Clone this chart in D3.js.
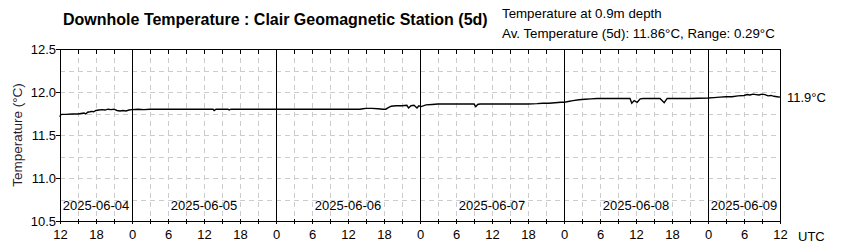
<!DOCTYPE html>
<html>
<head>
<meta charset="utf-8">
<script src="https://cdn.jsdelivr.net/npm/d3@7"></script>
<style>
  body { margin: 0; background: #fff; }
  svg { display: block; font-family: Arial, "Liberation Sans", sans-serif; }
</style>
</head>
<body>
<div id="chart"></div>
<script>
// Hours after 2025-06-04 12:00 UTC, and the downhole temperature (°C)
const hoursFromStart = [0, 0.1, 0.3, 1, 2, 3, 3.5, 4, 4.3, 4.6, 5, 5.3, 5.6, 6, 6.5, 7, 7.5, 8, 8.5, 9, 9.5, 10, 10.5, 11, 11.5, 12,
  13, 14, 15, 16, 20, 25.5, 25.7, 26, 28, 28.2, 28.5, 35, 45, 50, 50.5, 51, 52, 53, 53.8, 54.3, 54.8, 55.2, 56, 57,
  57.8, 58.1, 58.5, 59, 59.5, 59.8, 60.2, 61, 62, 63, 65, 67, 69, 69.3, 69.6, 70, 72, 75, 78, 79.5, 80.5, 81.5, 82.5,
  83.5, 84, 84.7, 85.5, 86.5, 87.5, 88.5, 89.5, 92, 95, 95.3, 95.7, 96.2, 96.7, 97.2, 100, 100.7, 101.2, 105, 108,
  109, 110, 111, 112, 113, 114, 114.5, 115, 115.5, 116, 116.5, 117, 117.5, 118, 118.5, 119, 119.5, 120];
const temps = [11.71, 11.735, 11.74, 11.74, 11.745, 11.745, 11.75, 11.755, 11.745, 11.765, 11.77, 11.775, 11.77, 11.785, 11.79, 11.795, 11.79, 11.80, 11.795, 11.80, 11.785, 11.78, 11.785, 11.78, 11.79, 11.795,
  11.80, 11.795, 11.80, 11.80, 11.80, 11.80, 11.785, 11.80, 11.80, 11.79, 11.80, 11.80, 11.80, 11.80, 11.805, 11.81, 11.81, 11.805, 11.80, 11.80, 11.82, 11.835, 11.84, 11.84,
  11.845, 11.815, 11.84, 11.845, 11.815, 11.84, 11.83, 11.85, 11.855, 11.86, 11.86, 11.86, 11.86, 11.83, 11.855, 11.86, 11.86, 11.86, 11.86, 11.865, 11.87, 11.87, 11.875,
  11.88, 11.88, 11.89, 11.90, 11.91, 11.915, 11.92, 11.925, 11.925, 11.925, 11.87, 11.90, 11.88, 11.92, 11.925, 11.925, 11.875, 11.925, 11.925, 11.93,
  11.935, 11.94, 11.945, 11.945, 11.955, 11.96, 11.97, 11.965, 11.975, 11.97, 11.965, 11.975, 11.97, 11.955, 11.96, 11.95, 11.945, 11.94];

const dayLabels = ["2025-06-04", "2025-06-05", "2025-06-06", "2025-06-07", "2025-06-08", "2025-06-09"];
const yTicks = [10.5, 11.0, 11.5, 12.0, 12.5];
const yGrid = [10.75, 11.0, 11.25, 11.5, 11.75, 12.0, 12.25];

const startTime = new Date(Date.UTC(2025, 5, 4, 12));
const endTime = new Date(Date.UTC(2025, 5, 9, 12));
const data = hoursFromStart.map((h, i) => ({ date: new Date(+startTime + h * 3600e3), value: temps[i] }));

const width = 865, height = 250;
const margin = { top: 49, right: 85, bottom: 29, left: 60 };
const innerW = width - margin.left - margin.right;
const innerH = height - margin.top - margin.bottom;

const svg = d3.select("#chart").append("svg")
    .attr("width", width)
    .attr("height", height);

const g = svg.append("g")
    .attr("transform", `translate(${margin.left},${margin.top})`);

const x = d3.scaleUtc().domain([startTime, endTime]).range([0, innerW]);
const y = d3.scaleLinear().domain([10.5, 12.5]).range([innerH, 0]);

const threeHours = d3.utcHour.every(3).range(startTime, d3.utcHour.offset(endTime, 1));
const midnights = d3.utcDay.range(startTime, endTime);

// Dashed grid
g.selectAll(".vgrid")
    .data(threeHours.filter(d => d.getUTCHours() !== 0))
    .enter().append("line")
    .attr("x1", d => Math.round(x(d)) + 0.5).attr("x2", d => Math.round(x(d)) + 0.5)
    .attr("y1", 0).attr("y2", innerH)
    .style("stroke", "#cccccc").style("stroke-dasharray", "5,4");

g.selectAll(".hgrid")
    .data(yGrid)
    .enter().append("line")
    .attr("x1", 0).attr("x2", innerW)
    .attr("y1", d => Math.round(y(d)) + 0.5).attr("y2", d => Math.round(y(d)) + 0.5)
    .style("stroke", "#cccccc").style("stroke-dasharray", "5,4");

// Solid lines at midnight
g.selectAll(".midnight")
    .data(midnights)
    .enter().append("line")
    .attr("x1", d => Math.round(x(d)) + 0.5).attr("x2", d => Math.round(x(d)) + 0.5)
    .attr("y1", 0).attr("y2", innerH)
    .style("stroke", "#000");

// Frame
g.append("rect")
    .attr("x", 0.5).attr("y", 0.5)
    .attr("width", innerW).attr("height", innerH)
    .style("fill", "none").style("stroke", "#000");

// Temperature line
const line = d3.line()
    .x(d => x(d.date))
    .y(d => y(d.value));

g.append("path")
    .datum(data)
    .attr("d", line)
    .style("fill", "none")
    .style("stroke", "#000")
    .style("stroke-width", 1.4);

// Day labels, centred on the visible part of each day
const dayStarts = [startTime, ...midnights];
g.selectAll(".day")
    .data(dayLabels)
    .enter().append("text")
    .attr("x", (d, i) => {
        const a = dayStarts[i];
        const b = i + 1 < dayStarts.length ? dayStarts[i + 1] : endTime;
        return (x(a) + x(b)) / 2;
    })
    .attr("y", innerH - 11)
    .style("text-anchor", "middle")
    .style("font-size", "13px")
    .text(d => d);

// Axes
const xAxis = d3.axisBottom(x)
    .tickValues(threeHours)
    .tickSize(5)
    .tickFormat(d => d.getUTCHours() % 6 === 0 ? d.getUTCHours() : "");

const xg = g.append("g")
    .attr("transform", `translate(0,${innerH - 2})`)
    .call(xAxis);
xg.select(".domain").remove();
xg.selectAll("text").style("font-size", "13px").style("fill", "#000").attr("y", 11);

const topAxis = g.append("g")
    .call(d3.axisBottom(x).tickValues(threeHours).tickSize(5).tickFormat(""));
topAxis.select(".domain").remove();

const yAxis = d3.axisLeft(y).tickValues(yTicks).tickSize(4).tickFormat(d3.format(".1f"));
const yg = g.append("g").call(yAxis);
yg.select(".domain").remove();
yg.selectAll("text").style("font-size", "13px").style("fill", "#000").attr("x", -4);

svg.append("text")
    .attr("x", 798).attr("y", 241)
    .style("font-size", "13px")
    .text("UTC");

// Current value on the right
svg.append("text")
    .attr("x", margin.left + innerW + 7)
    .attr("y", margin.top + y(temps[temps.length - 1]) + 5)
    .style("font-size", "13px")
    .text("11.9°C");

// Titles
svg.append("text")
    .attr("x", 63).attr("y", 25)
    .style("font-size", "16px")
    .style("font-weight", "bold")
    .text("Downhole Temperature : Clair Geomagnetic Station (5d)");

svg.append("text")
    .attr("x", 502).attr("y", 18)
    .style("font-size", "13.3px")
    .text("Temperature at 0.9m depth");

svg.append("text")
    .attr("x", 502).attr("y", 38)
    .style("font-size", "13.3px")
    .text("Av. Temperature (5d): 11.86°C, Range: 0.29°C");

svg.append("text")
    .attr("transform", `translate(22,${margin.top + innerH / 2}) rotate(-90)`)
    .style("text-anchor", "middle")
    .style("font-size", "13.5px")
    .style("fill", "#2a1a30")
    .text("Temperature (°C)");
</script>
</body>
</html>
